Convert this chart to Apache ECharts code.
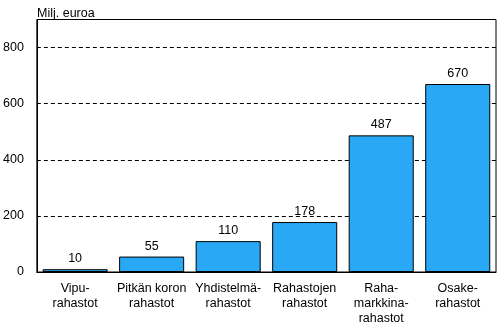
<!DOCTYPE html>
<html><head><meta charset="utf-8">
<script src="https://cdn.jsdelivr.net/npm/echarts@6/dist/echarts.min.js"></script>
<style>html,body{margin:0;padding:0;background:#fff}#c{width:497px;height:326px}</style>
</head><body><div id="c"></div>
<script>
const categories = ["Vipu-\nrahastot", "Pitkän koron\nrahastot", "Yhdistelmä-\nrahastot", "Rahastojen\nrahastot", "Raha-\nmarkkina-\nrahastot", "Osake-\nrahastot"];
const values = [10, 55, 110, 178, 487, 670];
const yTicks = [0, 200, 400, 600, 800];
const unitLabel = "Milj. euroa";

const font = "'Liberation Sans', Arial, sans-serif";
const chart = echarts.init(document.getElementById('c'), null, {renderer: 'canvas'});
chart.setOption({
  animation: false,
  backgroundColor: '#fff',
  textStyle: {fontFamily: font},
  title: {
    text: unitLabel, left: 32, top: 2,
    textStyle: {fontSize: 12.5, fontWeight: 'normal', color: '#000', fontFamily: font}
  },
  grid: {left: 33, right: 1, top: 19.5, bottom: 54, show: true, borderColor: '#000', borderWidth: 1, backgroundColor: 'transparent'},
  xAxis: {
    type: 'category', data: categories,
    axisLine: {lineStyle: {color: '#000', width: 1}},
    axisTick: {show: false},
    axisLabel: {color: '#000', fontSize: 12.5, fontFamily: font, margin: 9, lineHeight: 15, interval: 0}
  },
  yAxis: {
    type: 'value', min: 0, max: 900, interval: 200,
    axisLine: {show: true, lineStyle: {color: '#000', width: 1}},
    axisTick: {show: false},
    axisLabel: {color: '#000', fontSize: 12.5, fontFamily: font, margin: 13,
      formatter: v => yTicks.includes(v) ? String(v) : ''},
    splitLine: {show: true, lineStyle: {color: '#000', type: [4, 3], width: 1}}
  },
  series: [{
    type: 'bar', data: values, barWidth: '85%',
    itemStyle: {color: '#29A9F5', borderColor: '#000', borderWidth: 1},
    label: {show: true, position: 'top', distance: 4, color: '#000', fontSize: 12.5, fontFamily: font}
  }]
});
</script></body></html>
